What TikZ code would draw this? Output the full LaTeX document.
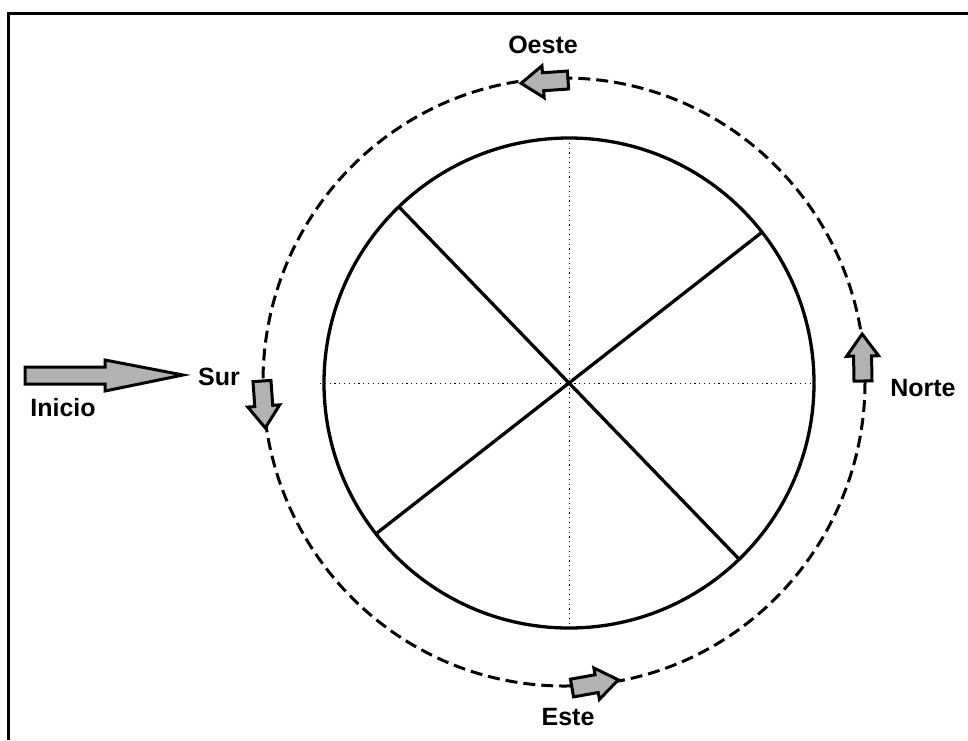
\documentclass[tikz,border=0pt]{standalone}
\usepackage{fontspec}
\setmainfont{Liberation Sans}
\tikzset{
  lbl/.style={font=\fontsize{25}{29}\selectfont\bfseries, inner sep=0pt},
  barrow/.style={draw=black, fill=gray!60, line width=3, line join=miter},
  dashcircle/.style={draw=black, line width=3, dash pattern=on 12 off 6},
  solidline/.style={draw=black, line width=3.3},
  dotline/.style={draw=black, line width=1, dash pattern=on 1.2 off 3.6},
}
\newcommand\smallarr[3]{%
  \draw[barrow, shift={(#1,#2)}, rotate=#3]
    (0,-9) -- (25,-9) -- (25,-16) -- (47,0) -- (25,16) -- (25,9) -- (0,9) -- cycle;}
\begin{document}
\begin{tikzpicture}[x=1pt,y=-1pt]
\useasboundingbox (0,0) rectangle (968,740);
% frame (top and left only)
\draw[line width=3] (8,740) -- (8,13) -- (968,13);
% centre
\coordinate (c) at (569,383);
% dashed outer circle
\draw[dashcircle] (564,382) ellipse [x radius=301, y radius=304];
% dotted axes
\draw[dotline] (320,383) -- (814,383);
\draw[dotline] (569,138) -- (569,628);
% inner circle
\draw[solidline] (c) circle [radius=245];
% diagonals (angles measured with y pointing down)
\draw[solidline] (c) ++(-134:245) coordinate (ul) -- (c) -- ++(46:245) coordinate (lr);
\draw[solidline] (c) ++(-38:245) coordinate (ur) -- (c) -- ++(142:245) coordinate (ll);
% small arrows on the circle
\smallarr{568}{80}{184}
\smallarr{572}{688}{10}
\smallarr{863}{381}{91}
\smallarr{262}{381}{274}
% Inicio arrow
\draw[barrow] (25,367) -- (105,367) -- (105,360) -- (183,375) -- (105,391) -- (105,384) -- (25,384) -- cycle;
% labels
\node[lbl] (oeste) at (543,45) {Oeste};
\node[lbl] (este) at (568,717) {Este};
\node[lbl] (norte) at (923,388) {Norte};
\node[lbl] (sur) at (219,377) {Sur};
\node[lbl] (inicio) at (63,408) {Inicio};
\end{tikzpicture}
\end{document}
